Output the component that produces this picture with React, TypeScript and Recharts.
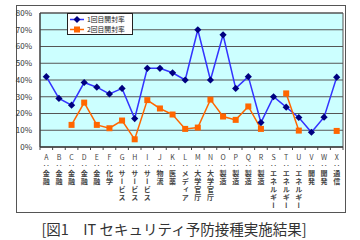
import React from 'react';
import {
    LineChart,
    Line,
    XAxis,
    YAxis,
    CartesianGrid,
    Legend,
    ReferenceArea,
} from 'recharts';

const codes = ['A', 'B', 'C', 'D', 'E', 'F', 'G', 'H', 'I', 'J', 'K', 'L', 'M', 'N', 'O', 'P', 'Q', 'R', 'S', 'T', 'U', 'V', 'W', 'X'];
const sectors = [
    '金融', '金融', '金融', '金融', '金融', '化学', 'サービス', 'サービス', 'サービス', '物流', '医薬', 'メディア',
    '大学官庁', '大学官庁', '製造', '製造', '製造', '製造', 'エネルギー', 'エネルギー', 'エネルギー', '開発', '開発', '通信',
];
const firstRate = [42, 29, 25, 38.5, 35.7, 31.7, 35, 17, 47, 47, 44.3, 40, 70, 40, 67, 35, 42, 14.6, 30, 23.8, 17.6, 8.8, 17.8, 41.7];
const secondRate = [null, null, 13.2, 26.5, 13.2, 11.2, 15.8, 4.6, 28, 23, 19.4, 10.8, 11.6, 28.3, 18.2, 16.2, 24.2, 10.8, null, 32, 9.8, null, null, 9.6];
const yTicks = [0, 10, 20, 30, 40, 50, 60, 70, 80];

const data = codes.map((code, i) => ({
    code,
    sector: sectors[i],
    first: firstRate[i],
    second: secondRate[i],
}));

const font = '"Noto Sans CJK JP", "Noto Sans", sans-serif';

// "A：金融" written top to bottom as one vertical text
const CategoryTick = ({ x, y, payload, index }: any) => {
    const half = payload.offset || 6.3;
    return (
        <g>
            <line x1={x + half} y1={y - 8} x2={x + half} y2={y - 5} stroke="#444" />
            {index === 0 && <line x1={x - half} y1={y - 8} x2={x - half} y2={y - 5} stroke="#444" />}
            <text
                x={x}
                y={y - 1.5}
                fill="#444"
                fontFamily={font}
                fontSize={7}
                style={{ writingMode: 'vertical-rl', textOrientation: 'upright', letterSpacing: 1.2 }}
            >
                <tspan>{payload.value}：</tspan>
                <tspan fontWeight="bold">{sectors[index]}</tspan>
            </text>
        </g>
    );
};

const Diamond = ({ cx, cy }: any) => {
    if (cx == null || cy == null) return null;
    return <path d={`M${cx},${cy - 3.6}L${cx + 3.6},${cy}L${cx},${cy + 3.6}L${cx - 3.6},${cy}Z`} fill="#000080" />;
};

const Square = ({ cx, cy, value }: any) => {
    if (cx == null || cy == null || value == null) return null;
    return <rect x={cx - 3} y={cy - 3} width={6} height={6} fill="#ff6600" />;
};

const LegendBox = ({ payload }: any) => (
    <div
        style={{
            border: '1px solid #222',
            background: '#fff',
            width: 64,
            fontFamily: font,
            fontSize: 6.8,
            color: '#222',
        }}
    >
        {payload.map((entry: any) => (
            <div key={entry.value} style={{ display: 'flex', alignItems: 'center', height: 10, lineHeight: '10px' }}>
                <svg width={18} height={9}>
                    <line x1={2} y1={4.5} x2={16} y2={4.5} stroke={entry.color} strokeWidth={1.5} />
                    {entry.dataKey === 'first' ? (
                        <path d="M9,1L12.5,4.5L9,8L5.5,4.5Z" fill="#000080" />
                    ) : (
                        <rect x={6} y={1.5} width={6} height={6} fill="#ff6600" />
                    )}
                </svg>
                <span style={{ marginLeft: 1 }}>{entry.value}</span>
            </div>
        ))}
    </div>
);

export default function App() {
    return (
        <div style={{ position: 'absolute', left: 0, top: 0, width: 360, height: 240, background: '#fff' }}>
            <div
                style={{
                    position: 'absolute',
                    left: 16,
                    top: 5,
                    width: 328,
                    height: 206,
                    border: '1px solid #555',
                }}
            />
            <div
                style={{
                    position: 'absolute',
                    left: 0,
                    top: 220,
                    width: 348,
                    textAlign: 'center',
                    fontFamily: font,
                    fontSize: 14.5,
                    color: '#333',
                    lineHeight: '18px',
                }}
            >
                [図1　IT セキュリティ予防接種実施結果]
            </div>
            <LineChart
                width={360}
                height={240}
                data={data}
                margin={{ top: 13, right: 17, left: 0, bottom: 0 }}
                style={{ position: 'absolute', left: 0, top: 0 }}
            >
                <CartesianGrid vertical={false} fill="#ccffff" stroke="#555" />
                <ReferenceArea y1={0} y2={80} fill="none" stroke="#555" ifOverflow="visible" />
                <XAxis
                    dataKey="code"
                    scale="band"
                    height={93}
                    interval={0}
                    tickLine={false}
                    axisLine={{ stroke: '#333' }}
                    tick={<CategoryTick />}
                />
                <YAxis
                    width={40}
                    domain={[0, 80]}
                    ticks={yTicks}
                    interval={0}
                    tickLine={false}
                    axisLine={{ stroke: '#333' }}
                    tickFormatter={(v) => `${v}%`}
                    tick={{ fontSize: 8, fill: '#333', fontFamily: font }}
                />
                <Legend
                    layout="horizontal"
                    verticalAlign="middle"
                    align="center"
                    wrapperStyle={{ left: 67, top: 13, width: 66 }}
                    content={<LegendBox />}
                />
                <Line
                    dataKey="first"
                    name="1回目開封率"
                    stroke="#3333ff"
                    strokeWidth={1.5}
                    dot={<Diamond />}
                    activeDot={false}
                    isAnimationActive={false}
                />
                <Line
                    dataKey="second"
                    name="2回目開封率"
                    stroke="#ff6600"
                    strokeWidth={1.5}
                    dot={<Square />}
                    activeDot={false}
                    isAnimationActive={false}
                />
            </LineChart>
        </div>
    );
}
